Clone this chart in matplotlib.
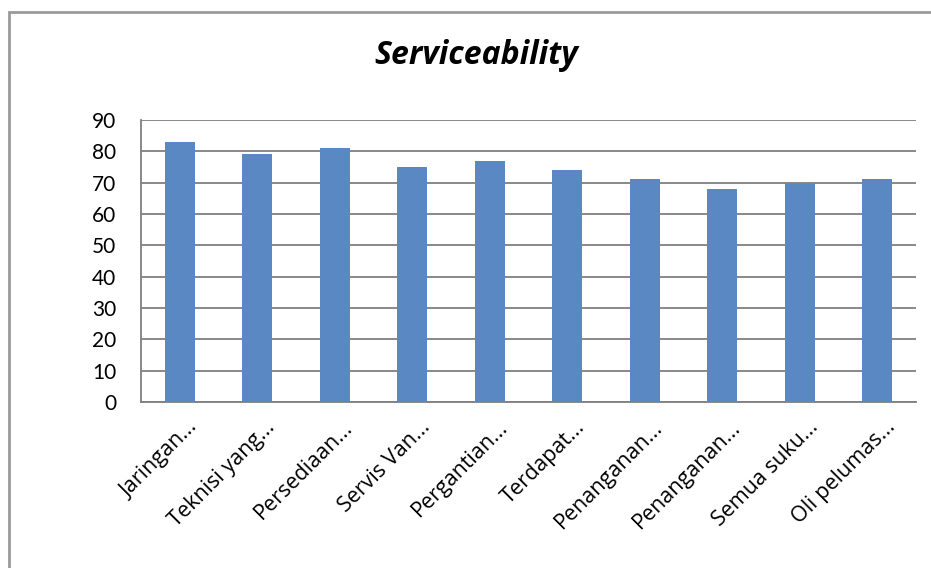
import numpy as np
import matplotlib.pyplot as plt
import matplotlib.transforms as mtransforms
from matplotlib.patches import Rectangle

plt.rcParams['font.family'] = ['Lato', 'DejaVu Sans']

# kategori pertanyaan dan skor serviceability
labels = ['Jaringan...', 'Teknisi yang...', 'Persediaan...', 'Servis Van...',
          'Pergantian...', 'Terdapat...', 'Penanganan...', 'Penanganan...',
          'Semua suku...', 'Oli pelumas...']
scores = [83, 79, 81, 75, 77, 74, 71, 68, 70, 71]
yticks = [0, 10, 20, 30, 40, 50, 60, 70, 80, 90]

fig = plt.figure(figsize=(9.31, 5.68), dpi=100)
ax = fig.add_axes([0.1515, 0.2923, 0.8324, 0.4965])

x = np.arange(len(labels))
ax.bar(x, scores, width=0.39, color='#5A88C2', zorder=3)

ax.set_xlim(-0.5, len(labels) - 0.5)
ax.set_ylim(0, 90)
ax.set_yticks(yticks)
ax.yaxis.grid(True, color='#7f7f7f', linewidth=1.3, zorder=0)
ax.set_axisbelow(True)

for s in ['top', 'right']:
    ax.spines[s].set_visible(False)
for s in ['left', 'bottom']:
    ax.spines[s].set_color('#7f7f7f')
    ax.spines[s].set_linewidth(1.3)

ax.tick_params(axis='y', length=0, pad=18, labelsize=15)
ax.tick_params(axis='x', length=0, pad=16)
ax.set_xticks(x)
ax.set_xticklabels(labels, rotation=45, ha='right', va='center',
                   rotation_mode='anchor', fontsize=15.5,
                   family=['Open Sans', 'DejaVu Sans'])
offset = mtransforms.ScaledTranslation(0.15, 0, fig.dpi_scale_trans)
for lbl in ax.get_xticklabels():
    lbl.set_transform(lbl.get_transform() + offset)

fig.text(0.512, 0.903, 'Serviceability', ha='center', va='center',
         fontsize=23, fontweight='bold', fontstyle='italic',
         family=['Open Sans', 'DejaVu Sans'])

# bingkai chart
fig.patches.append(Rectangle((9 / 931, -0.05), 1.2, 1 - 12 / 568 + 0.05,
                             transform=fig.transFigure, fill=False,
                             edgecolor='#9a9a9a', linewidth=2))

fig.savefig('out.png', dpi=100)
